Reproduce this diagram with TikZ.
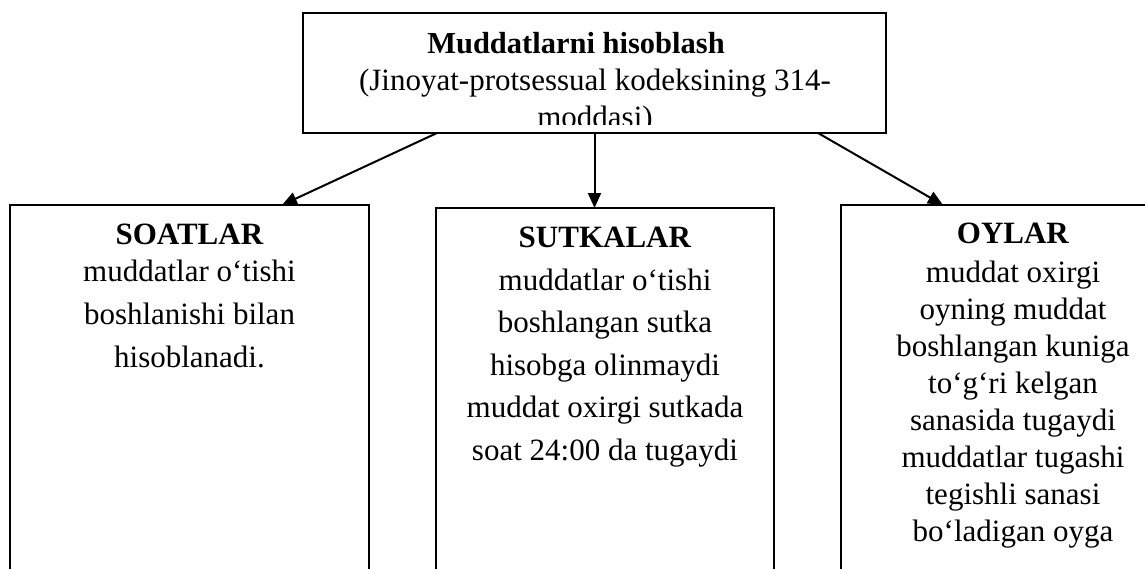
\documentclass[tikz,border=0pt]{standalone}
\usepackage{fontspec}
\setmainfont{Liberation Serif}
\usetikzlibrary{arrows.meta}
\begin{document}
\begin{tikzpicture}[x=1pt,y=-1pt,
  box/.style={draw, line width=2pt, rectangle, inner sep=0pt, outer sep=0pt, anchor=north west},
  txt/.style={inner sep=0pt, align=center, anchor=base},
  arr/.style={line width=2pt, -{Triangle[length=15pt,width=13pt]}}]
\useasboundingbox (0,0) rectangle (1145,568);
\fill[white] (0,0) rectangle (1145,568);

% boxes (the lower three run past the bottom edge of the page)
\node[box, minimum width=583pt, minimum height=120pt] (top) at (303,13) {};
\node[box, minimum width=359pt, minimum height=420pt] (soat) at (10,205) {};
\node[box, minimum width=338pt, minimum height=420pt] (sutka) at (436,208) {};
\node[box, minimum width=344pt, minimum height=420pt] (oylar) at (841,205) {};

% heading box text (multi-line nodes sit on the baseline of their last line)
\node[txt, font=\fontsize{30.5}{37}\selectfont\bfseries] (toptitle) at (576,53) {Muddatlarni hisoblash};
\begin{scope}
  \clip (303,13) rectangle (886,124);
  \node[txt, font=\fontsize{31}{37}\selectfont] (topbody) at (595,127)
    {(Jinoyat-protsessual kodeksining 314-\\moddasi)};
\end{scope}

% connectors
\draw[arr] ([xshift=-157.5pt]top.south) -- ([xshift=92.5pt]soat.north);
\draw[arr] (top.south) -- (top.south |- sutka.north);
\draw[arr] ([xshift=223.5pt]top.south) -- ([xshift=-70pt]oylar.north);

% box texts
\node[txt, font=\fontsize{31}{43}\selectfont] (soatT) at (189.5,367)
  {\textbf{SOATLAR}\\[-6pt]muddatlar o‘tishi\\boshlanishi bilan\\hisoblanadi.};
\node[txt, font=\fontsize{31}{42.5}\selectfont] (sutkaT) at (605,460)
  {\textbf{SUTKALAR}\\muddatlar o‘tishi\\boshlangan sutka\\hisobga olinmaydi\\muddat oxirgi sutkada\\soat 24:00 da tugaydi};
\node[txt, font=\fontsize{31}{37}\selectfont] (oylarT) at (1013,541)
  {\textbf{OYLAR}\\[2pt]muddat oxirgi\\oyning muddat\\boshlangan kuniga\\to‘g‘ri kelgan\\sanasida tugaydi\\muddatlar tugashi\\tegishli sanasi\\bo‘ladigan oyga};
\end{tikzpicture}
\end{document}
